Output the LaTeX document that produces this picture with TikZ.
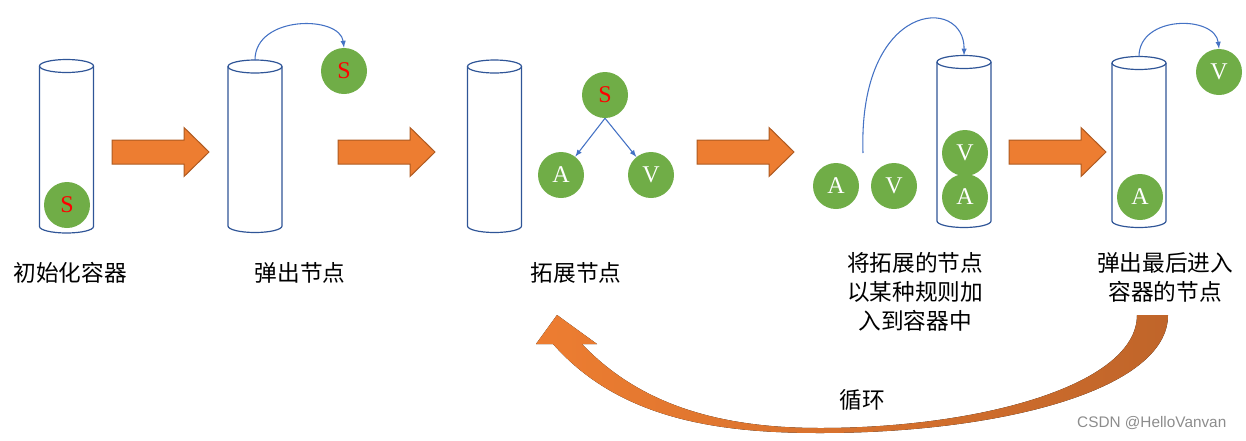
\documentclass[tikz,border=0pt]{standalone}
\usepackage{fontspec}
\setmainfont{Liberation Serif}
\newfontfamily\cjk{Noto Sans CJK SC}
\newfontfamily\wmark{Liberation Sans}

\definecolor{tubeblue}{HTML}{2F5597}
\definecolor{ballgreen}{HTML}{70AD47}
\definecolor{linkblue}{HTML}{4472C4}
\definecolor{arrorange}{HTML}{ED7D31}
\definecolor{arredge}{HTML}{AE5A21}
\definecolor{arrdark}{HTML}{C0652A}

\tikzset{
	ball/.style={circle, fill=ballgreen, minimum size=34.5pt, inner sep=0pt, text=white, font=\fontsize{18}{18}\selectfont},
	tube/.style={draw=tubeblue, line width=0.9pt},
	flow/.style={fill=arrorange, draw=arredge, line width=0.75pt},
	link/.style={draw=linkblue, line width=0.8pt, -latex},
	caption/.style={font=\cjk\fontsize{17}{21.5}\selectfont, align=center},
}

% container: centre x, top y, bottom y
\newcommand{\drawtube}[3]{%
	\draw[tube] (#1-27,#2) -- (#1-27,#3) arc[start angle=180, end angle=0, x radius=27, y radius=6.5] -- (#1+27,#2);
	\draw[tube] (#1,#2) ellipse[x radius=27, y radius=6.5];
}
% block arrow: left end x, middle y
\newcommand{\flowarrow}[2]{%
	\draw[flow, shift={(#1,#2)}] (0,-12) -- (72,-12) -- (72,-24.5) -- (97,0) -- (72,24.5) -- (72,12) -- (0,12) -- cycle;
}

\begin{document}
\begin{tikzpicture}[x=0.75pt, y=-0.75pt]
	\useasboundingbox (0,0) rectangle (1246,440);

	% containers
	\drawtube{66.5}{66}{226.5}
	\drawtube{255}{66.5}{226}
	\drawtube{494.5}{66.5}{226}
	\drawtube{964}{62}{221}
	\drawtube{1139}{63}{221}

	% step arrows
	\flowarrow{112}{152}
	\flowarrow{338}{152}
	\flowarrow{697}{152}
	\flowarrow{1009}{152}

	% step 1
	\node[ball, text=red] (s1) at (67,205) {S};

	% step 2
	\coordinate (top2) at (255,60);
	\node[ball, text=red] (s2) at (344,71) {S};
	\draw[link] (top2) .. controls (255,15) and (340,15) .. (s2.north);

	% step 3
	\node[ball, text=red] (s3) at (605,95) {S};
	\node[ball] (a3) at (561,175) {A};
	\node[ball] (v3) at (651,175) {V};
	\draw[link] (s3.south) -- (a3);
	\draw[link] (s3.south) -- (v3);

	% step 4
	\node[ball] (a4) at (836,186) {A};
	\node[ball] (v4) at (894,186) {V};
	\node[ball] (a4in) at (965,197) {A};
	\node[ball] (v4in) at (965,153) {V};
	\coordinate (lift) at (863,153);
	\coordinate (top4) at (964,55.5);
	\draw[link] (lift) .. controls (858,0) and (965,-5) .. (top4);

	% step 5
	\node[ball] (a5) at (1140,197) {A};
	\node[ball] (v5) at (1219,72) {V};
	\coordinate (top5) at (1139,56.5);
	\draw[link] (top5) .. controls (1139,15) and (1215,15) .. (v5.north);

	% captions
	\node[caption] (l1) at (70,273) {初始化容器};
	\node[caption] (l2) at (300,273) {弹出节点};
	\node[caption] (l3) at (576,273) {拓展节点};
	\node[caption] (l4) at (915,292) {将拓展的节点\\以某种规则加\\入到容器中};
	\node[caption] (l5) at (1165,277.5) {弹出最后进入\\容器的节点};

	% loop back
	\fill[left color=arrorange, middle color=arrorange, right color=arrdark]
		(1137,315) .. controls (1137,385) and (980,428) .. (820,428)
		.. controls (720,428) and (640,405) .. (582,344)
		-- (597,344) -- (557,315) -- (536,344) -- (553,344)
		.. controls (620,420) and (720,433) .. (820,433)
		.. controls (1000,433) and (1168,390) .. (1168,315) -- cycle;
	\node[caption] (loop) at (862,400) {循环};

	\node[anchor=east, font=\wmark\fontsize{11.5}{12}\selectfont, text=black!45] (mark) at (1231,423) {CSDN @HelloVanvan};
\end{tikzpicture}
\end{document}
